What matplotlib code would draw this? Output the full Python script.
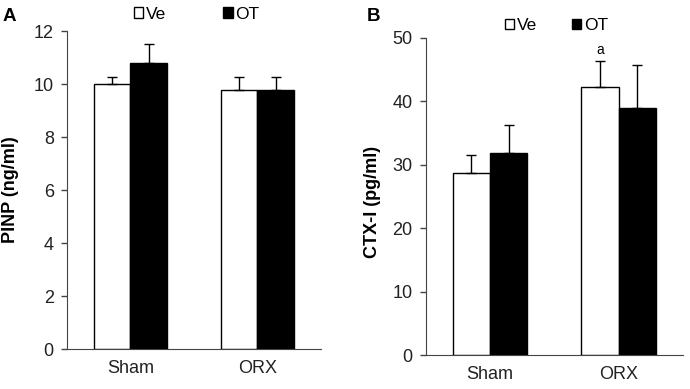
import numpy as np
import matplotlib
matplotlib.use("Agg")
import matplotlib.pyplot as plt

plt.rcParams['font.family'] = ['Liberation Sans', 'DejaVu Sans']

groups = ['Sham', 'ORX']
series = ['Ve', 'OT']

pinp_ve = [10.0, 9.78]
pinp_ot = [10.8, 9.78]
pinp_ve_err = [0.27, 0.48]
pinp_ot_err = [0.73, 0.48]

ctx_ve = [28.7, 42.2]
ctx_ot = [31.8, 39.0]
ctx_ve_err = [2.9, 4.2]
ctx_ot_err = [4.4, 6.7]
ctx_marks = ['', 'a']


def bar_panel(ax, ve, ot, ve_err, ot_err, ylim, yticks, ylabel):
    x = np.arange(len(groups)) + 0.5
    w = 0.29
    err_kw = dict(ecolor='black', elinewidth=1.0, capsize=3.5, capthick=1.0)
    b1 = ax.bar(x - w / 2, ve, w, color='white', edgecolor='black', linewidth=1.0,
                yerr=[np.zeros(len(ve)), ve_err], error_kw=err_kw, label=series[0], zorder=2)
    b2 = ax.bar(x + w / 2, ot, w, color='black', edgecolor='black', linewidth=1.0,
                yerr=[np.zeros(len(ot)), ot_err], error_kw=err_kw, label=series[1], zorder=2)
    ax.set_xlim(0, len(groups))
    ax.set_ylim(*ylim)
    ax.set_yticks(yticks)
    ax.set_xticks(x)
    ax.set_xticklabels(groups, fontsize=13, color='#222222')
    ax.tick_params(axis='x', length=0, pad=8)
    ax.tick_params(axis='y', labelsize=13, labelcolor='#222222', length=4.5, width=1,
                   direction='out', pad=5, color='#444444')
    ax.spines['top'].set_visible(False)
    ax.spines['right'].set_visible(False)
    ax.spines['left'].set_color('#444444')
    ax.spines['bottom'].set_color('#444444')
    ax.set_ylabel(ylabel, fontsize=13, fontweight='bold')
    return x, w, b1, b2


fig = plt.figure(figsize=(6.9, 3.89), dpi=100)
ax1 = fig.add_axes([0.0971, 0.1028, 0.368, 0.817])
ax2 = fig.add_axes([0.617, 0.0874, 0.373, 0.815])

leg_kw = dict(ncol=2, loc='lower left', frameon=False, fontsize=12.5,
              handlelength=0.55, handleheight=0.55, handletextpad=0.15,
              borderpad=0, borderaxespad=0)

x, w, b1, b2 = bar_panel(ax1, pinp_ve, pinp_ot, pinp_ve_err, pinp_ot_err,
                         (0, 12), np.arange(0, 13, 2), 'PINP (ng/ml)')
ax1.legend(bbox_to_anchor=(0.262, 1.03), columnspacing=3.3, **leg_kw)

x, w, b1, b2 = bar_panel(ax2, ctx_ve, ctx_ot, ctx_ve_err, ctx_ot_err,
                         (0, 50), np.arange(0, 51, 10), 'CTX-I (pg/ml)')
ax2.legend(bbox_to_anchor=(0.307, 1.015), columnspacing=2.0, **leg_kw)
for xi, v, e, m in zip(x - w / 2, ctx_ve, ctx_ve_err, ctx_marks):
    if m:
        ax2.text(xi, v + e + 0.6, m, ha='center', va='bottom', fontsize=10)

ax1.yaxis.set_label_coords(-0.19, 0.5)
ax2.yaxis.set_label_coords(-0.174, 0.484)

fig.text(0.004, 0.958, 'A', fontsize=13.5, fontweight='bold', va='center')
fig.text(0.531, 0.958, 'B', fontsize=13.5, fontweight='bold', va='center')

fig.savefig('out.png', dpi=100)
